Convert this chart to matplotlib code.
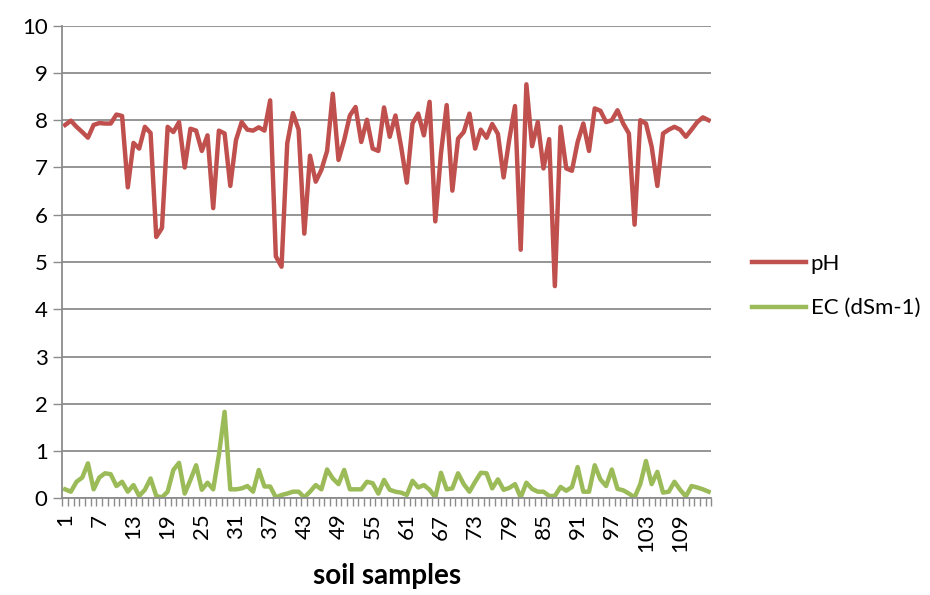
import numpy as np
import matplotlib.pyplot as plt

# soil sample values
samples = list(range(1, 115))

ph = [7.9, 7.99, 7.86, 7.75, 7.63, 7.9, 7.94, 7.93, 7.93, 8.12,
      8.09, 6.58, 7.52, 7.4, 7.86, 7.73, 5.53, 5.72, 7.86, 7.75,
      7.96, 7.0, 7.82, 7.78, 7.35, 7.68, 6.14, 7.78, 7.72, 6.61,
      7.58, 7.96, 7.8, 7.78, 7.85, 7.78, 8.42, 5.12, 4.9, 7.51,
      8.15, 7.8, 5.6, 7.25, 6.7, 6.95, 7.35, 8.56, 7.16, 7.58,
      8.1, 8.28, 7.54, 8.01, 7.4, 7.35, 8.27, 7.65, 8.1, 7.44,
      6.68, 7.93, 8.14, 7.68, 8.39, 5.86, 7.3, 8.32, 6.51, 7.61,
      7.75, 8.14, 7.4, 7.8, 7.63, 7.92, 7.71, 6.79, 7.6, 8.3,
      5.26, 8.76, 7.45, 7.96, 6.98, 7.6, 4.49, 7.86, 6.98, 6.93,
      7.54, 7.93, 7.35, 8.25, 8.2, 7.96, 8.0, 8.21, 7.93, 7.72,
      5.79, 8.0, 7.93, 7.44, 6.61, 7.72, 7.8, 7.86, 7.8, 7.65,
      7.8, 7.96, 8.06, 8.0]

ec = [0.19, 0.14, 0.35, 0.44, 0.74, 0.19, 0.44, 0.53, 0.51, 0.26,
      0.35, 0.14, 0.28, 0.05, 0.18, 0.42, 0.05, 0.02, 0.14, 0.6,
      0.75, 0.1, 0.39, 0.7, 0.18, 0.33, 0.19, 0.92, 1.83, 0.19,
      0.19, 0.21, 0.26, 0.14, 0.6, 0.25, 0.25, 0.02, 0.07, 0.1,
      0.14, 0.14, 0.02, 0.14, 0.28, 0.19, 0.61, 0.42, 0.3, 0.6,
      0.19, 0.19, 0.19, 0.35, 0.32, 0.1, 0.39, 0.18, 0.14, 0.12,
      0.07, 0.37, 0.23, 0.28, 0.18, 0.02, 0.54, 0.19, 0.21, 0.53,
      0.3, 0.14, 0.35, 0.54, 0.53, 0.21, 0.4, 0.18, 0.22, 0.3,
      0.02, 0.33, 0.2, 0.14, 0.14, 0.05, 0.05, 0.24, 0.16, 0.24,
      0.66, 0.14, 0.14, 0.7, 0.4, 0.26, 0.61, 0.2, 0.17, 0.1,
      0.02, 0.3, 0.79, 0.3, 0.56, 0.12, 0.14, 0.35, 0.18, 0.04,
      0.26, 0.23, 0.19, 0.14]

tick_labels = samples[::6]

plt.rcParams['font.family'] = ['Lato', 'DejaVu Sans']

fig = plt.figure(figsize=(9.3, 5.95), dpi=100)
ax = fig.add_axes([0.067, 0.1625, 0.698, 0.7943])

ax.plot(samples, ph, color='#C0504D', lw=3.2, label='pH', solid_joinstyle='round')
ax.plot(samples, ec, color='#9BBB59', lw=3.2, label='EC (dSm-1)', solid_joinstyle='round')

ax.set_xlim(0.5, len(samples) + 0.5)
ax.set_ylim(0, 10)
ax.set_yticks(range(0, 11))
ax.yaxis.grid(True, color='#8c8c8c', lw=1.3)
ax.set_axisbelow(True)

ax.set_xticks(tick_labels)
ax.set_xticklabels([str(t) for t in tick_labels], rotation=90)
ax.set_xticks(np.arange(0.5, len(samples) + 1, 1), minor=True)
ax.tick_params(axis='x', which='major', length=0, labelsize=16, pad=11)
ax.tick_params(axis='x', which='minor', length=5.5, color='#8c8c8c', width=1)
ax.tick_params(axis='y', length=6.5, color='#8c8c8c', width=1, labelsize=16, pad=4)

for s in ['top', 'right']:
    ax.spines[s].set_visible(False)
for s in ['left', 'bottom']:
    ax.spines[s].set_color('#8c8c8c')
    ax.spines[s].set_linewidth(1.3)

ax.set_xlabel('soil samples', fontsize=20, fontweight='bold', labelpad=8)

ax.legend(loc='center left', bbox_to_anchor=(1.062, 0.449), frameon=False,
          fontsize=16, handlelength=2.45, handletextpad=0.2, labelspacing=1.1,
          borderpad=0, borderaxespad=0)

fig.savefig('out.png', dpi=100)
